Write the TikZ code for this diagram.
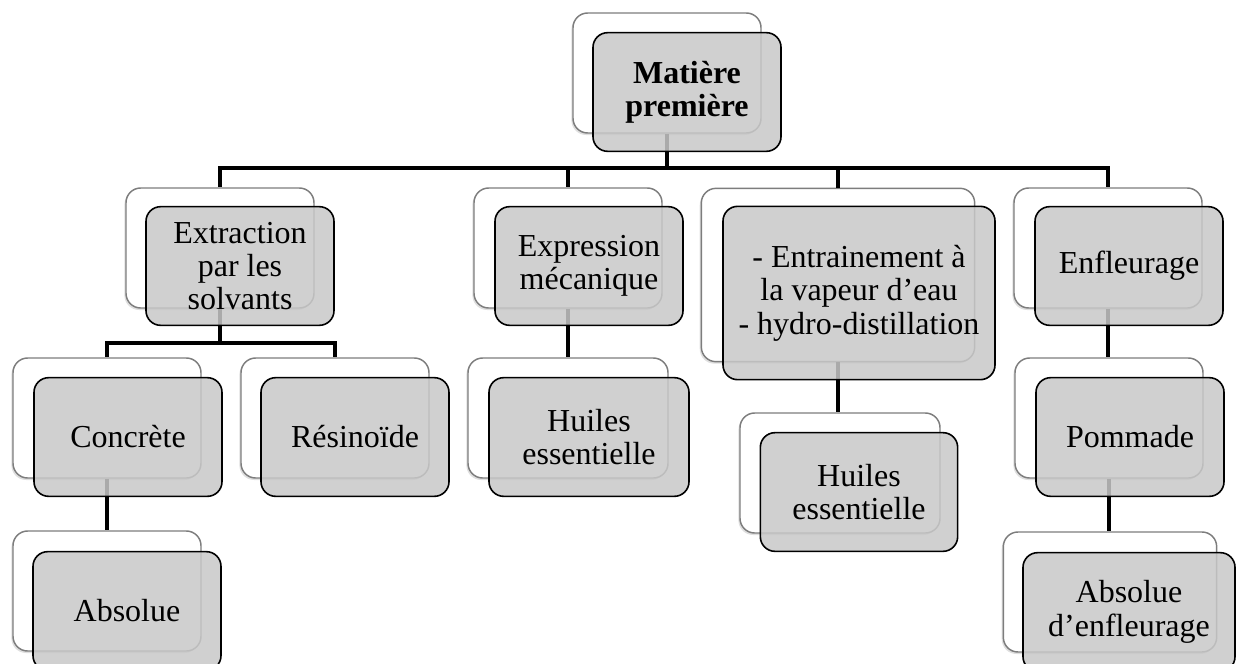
\documentclass[tikz,border=0pt]{standalone}
\usepackage{fontspec}
\setmainfont{Liberation Serif}
\usepackage{xcolor}
\usetikzlibrary{shadows}

\definecolor{frontgray}{RGB}{200,200,200}
\definecolor{backline}{RGB}{125,125,125}

\begin{document}
\begin{tikzpicture}[x=0.75pt, y=-0.75pt,
  every node/.style={font=\fontsize{24}{25}\selectfont, align=center},
  backbox/.style={rectangle, rounded corners=11pt, draw=backline, line width=1.1pt, fill=white,
    drop shadow={shadow xshift=-1.2pt, shadow yshift=-1.5pt, opacity=0.25},
    minimum width=141pt, minimum height=90pt},
  frontbox/.style={rectangle, rounded corners=11pt, draw=black, line width=1.2pt, fill=frontgray,
    fill opacity=0.85, text opacity=1, minimum width=141pt, minimum height=89pt},
  link/.style={draw=black, line width=3.4pt}]
\useasboundingbox (0,0) rectangle (1243,664);

% back boxes
\node[backbox] (mat-b) at (667,73) {};
\node[backbox] (ext-b) at (220,248) {};
\node[backbox] (exp-b) at (568,248) {};
\node[backbox, minimum width=205pt, minimum height=130pt] (ent-b) at (838,275) {};
\node[backbox] (enf-b) at (1108,248) {};
\node[backbox] (con-b) at (107,418) {};
\node[backbox] (res-b) at (335,418) {};
\node[backbox, minimum width=150pt] (hui1-b) at (568,418) {};
\node[backbox, minimum width=150pt] (hui2-b) at (840,473) {};
\node[backbox] (pom-b) at (1109,418) {};
\node[backbox] (abs-b) at (107,591) {};
\node[backbox, minimum width=160pt] (abe-b) at (1110,592) {};

% connectors
\coordinate (bar1) at (667,168);
\coordinate (bar2) at (220,343);
\draw[link] (mat-b.south) -- (bar1) -| (ext-b.north);
\draw[link] (bar1) -| (exp-b.north);
\draw[link] (bar1) -| (ent-b.north);
\draw[link] (bar1) -| (enf-b.north);
\draw[link] (ext-b.south) -- (bar2) -| (con-b.north);
\draw[link] (bar2) -| (res-b.north);
\draw[link] (exp-b.south) -- (hui1-b.north);
\draw[link] (ent-b.south) -- (ent-b.south |- hui2-b.north);
\draw[link] (enf-b.south) -- (enf-b.south |- pom-b.north);
\draw[link] (con-b.south) -- (abs-b.north);
\draw[link] (pom-b.south) -- (pom-b.south |- abe-b.north);

% front boxes
\node[frontbox] (mat) at (687,92) {\textbf{Matière}\\\textbf{première}};
\node[frontbox] (ext) at (240,266) {Extraction\\par les\\solvants};
\node[frontbox] (exp) at (589,266) {Expression\\mécanique};
\node[frontbox, minimum width=204pt, minimum height=130pt] (ent) at (859,293) {- Entrainement à\\la vapeur d’eau\\- hydro-distillation};
\node[frontbox] (enf) at (1129,266) {Enfleurage};
\node[frontbox] (con) at (128,437) {Concrète};
\node[frontbox] (res) at (355,437) {Résinoïde};
\node[frontbox, minimum width=150pt] (hui1) at (589,437) {Huiles\\essentielle};
\node[frontbox, minimum width=148pt] (hui2) at (859,492) {Huiles\\essentielle};
\node[frontbox] (pom) at (1130,437) {Pommade};
\node[frontbox] (abs) at (127,611) {Absolue};
\node[frontbox, minimum width=159pt] (abe) at (1129,612) {Absolue\\d’enfleurage};
\end{tikzpicture}
\end{document}
